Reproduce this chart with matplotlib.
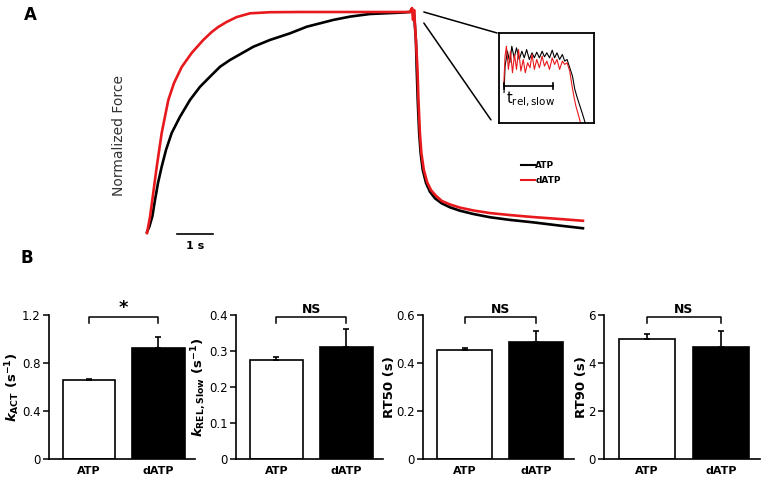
import numpy as np
import matplotlib
matplotlib.use("Agg")
import matplotlib.pyplot as plt
from matplotlib.lines import Line2D
from matplotlib.patches import ConnectionPatch

plt.rcParams["font.family"] = ["DejaVu Sans"]
plt.rcParams["mathtext.fontset"] = "custom"
plt.rcParams["mathtext.it"] = "DejaVu Sans:italic:bold"
plt.rcParams["mathtext.rm"] = "DejaVu Sans"

# ---- Panel A: normalized force traces (time in s, force 0..1) ----
t_atp = [0, 0.064, 0.147, 0.222, 0.306, 0.408, 0.528, 0.686, 0.917, 1.194, 1.472, 1.75,
         2.028, 2.306, 2.631, 2.953, 3.417, 3.972, 4.436, 5.175, 5.639, 6.194, 7.028, 7.306,
         7.36, 7.42, 7.47, 7.49, 7.52, 7.56, 7.60, 7.66, 7.75, 7.86, 8.0, 8.19, 8.42, 8.69,
         9.06, 9.53, 10.08, 10.72, 11.47, 12.11]
f_atp = [0, 0.024, 0.07, 0.145, 0.223, 0.297, 0.373, 0.45, 0.524, 0.60, 0.66, 0.706,
         0.751, 0.782, 0.812, 0.842, 0.873, 0.903, 0.933, 0.964, 0.979, 0.991, 0.997, 1.0,
         1.014, 0.99, 0.87, 0.751, 0.60, 0.45, 0.36, 0.282, 0.223, 0.183, 0.153, 0.13, 0.112,
         0.097, 0.082, 0.067, 0.055, 0.044, 0.029, 0.017]
t_datp = [0, 0.083, 0.147, 0.269, 0.408, 0.592, 0.75, 0.964, 1.242, 1.564, 1.797, 1.981,
          2.214, 2.492, 2.861, 3.417, 4.25, 7.306, 7.36, 7.39, 7.42, 7.47, 7.51, 7.54, 7.58,
          7.62, 7.69, 7.78, 7.89, 8.03, 8.19, 8.42, 8.69, 9.06, 9.53, 10.08, 10.72, 11.47, 12.11]
f_datp = [-0.005, 0.068, 0.145, 0.295, 0.45, 0.60, 0.677, 0.75, 0.814, 0.873, 0.909, 0.932,
          0.955, 0.977, 0.994, 0.999, 1.0, 1.0, 1.018, 0.964, 1.009, 0.87, 0.751, 0.60, 0.45,
          0.36, 0.282, 0.227, 0.19, 0.164, 0.141, 0.125, 0.111, 0.098, 0.086, 0.077, 0.068,
          0.059, 0.051]

# inset (zoom on relaxation onset), arbitrary units
ins_x_atp = [45, 48, 55, 62, 68, 75, 82, 90, 98, 105, 112, 120, 128, 135, 142, 150, 158,
             165, 172, 180, 188, 195, 202, 210, 218, 225, 232, 240, 248, 255, 262, 270, 278, 286]
ins_y_atp = [100, 180, 225, 190, 240, 205, 235, 200, 225, 205, 230, 200, 220, 205, 222, 205,
             225, 208, 220, 205, 228, 205, 220, 200, 215, 195, 200, 175, 150, 110, 85, 60, 35, 8]
ins_x_datp = [44, 48, 52, 58, 64, 70, 76, 82, 88, 95, 102, 108, 115, 122, 128, 135, 142, 150,
              158, 165, 172, 180, 188, 195, 202, 210, 218, 225, 232, 240, 246, 252, 258, 265, 272]
ins_y_datp = [120, 210, 240, 170, 225, 160, 215, 170, 230, 165, 200, 160, 190, 175, 215, 170,
              200, 175, 210, 180, 195, 170, 205, 185, 200, 170, 195, 185, 190, 165, 125, 90,
              60, 35, 8]
ins_bar = [45, 190]   # t_rel,slow span

# ---- Panel B: bar values ----
groups = ["ATP", "dATP"]
k_act = [0.66, 0.923]
k_act_err = [0.008, 0.094]
k_rel = [0.275, 0.31]
k_rel_err = [0.008, 0.051]
rt50 = [0.454, 0.489]
rt50_err = [0.008, 0.045]
rt90 = [5.02, 4.68]
rt90_err = [0.18, 0.66]

W, H = 764, 484
RED = "#e8191c"
fig = plt.figure(figsize=(W / 100, H / 100), dpi=100)

# panel A axes spans the top 250 px; time 0 at x=147 px, 36 px per second
ax_a = fig.add_axes([0, 234 / H, 1, 250 / H])
ax_a.set_xlim(-147 / 36, (W - 147) / 36)
ax_a.set_ylim(-18 / 220, 232 / 220)
ax_a.axis("off")
ax_a.plot(t_atp, f_atp, color="black", lw=1.9, solid_joinstyle="round")
ax_a.plot(t_datp, f_datp, color=RED, lw=1.9, solid_joinstyle="round")

# 1 s scale bar
ax_a.plot([0.83, 1.83], [-0.01, -0.01], color="black", lw=1.2)
ax_a.text(1.33, -0.062, "1 s", ha="center", va="center", fontsize=8, fontweight="bold")

fig.text(119 / W, 1 - 136 / H, "Normalized Force", rotation=90, ha="center", va="center",
         fontsize=10, color="#333333")
fig.text(30 / W, 1 - 15 / H, "A", fontsize=12, fontweight="bold", ha="center", va="center")
fig.text(27 / W, 1 - 258 / H, "B", fontsize=12, fontweight="bold", ha="center", va="center")

handles = [Line2D([], [], color="black", lw=1.5), Line2D([], [], color=RED, lw=1.5)]
ax_a.legend(handles, groups, loc="upper left", bbox_to_anchor=(521 / W, 1 - 161 / H),
            bbox_transform=fig.transFigure, frameon=False, borderpad=0, borderaxespad=0,
            handlelength=1.5, handletextpad=0.1, labelspacing=0.7,
            prop={"size": 6.5, "weight": "bold"})

# inset
ax_in = fig.add_axes([499 / W, 1 - 123 / H, 95 / W, 90 / H])
ax_in.plot(ins_x_atp, ins_y_atp, color="black", lw=0.8)
ax_in.plot(ins_x_datp, ins_y_datp, color=RED, lw=0.8)
ax_in.set_xlim(30, 312)
ax_in.set_ylim(8, 280)
ax_in.set_xticks([])
ax_in.set_yticks([])
for s in ax_in.spines.values():
    s.set_linewidth(1.3)
ax_in.plot(ins_bar, [120, 120], color="black", lw=1.2)
ax_in.plot([ins_bar[0]] * 2, [110, 130], color="black", lw=1.2)
ax_in.plot([ins_bar[1]] * 2, [110, 130], color="black", lw=1.2)
ax_in.text(125, 78, r"t$_{\mathregular{rel,slow}}$", ha="center", va="center", fontsize=10.5)

for xyA, xyB in [((7.69, 1.0), (-0.02, 1.0)), ((7.69, 0.95), (-0.085, 0.035))]:
    con = ConnectionPatch(xyA=xyA, coordsA=ax_a.transData, xyB=xyB, coordsB=ax_in.transAxes,
                          color="black", lw=1.1)
    fig.add_artist(con)

# ---- Panel B ----
panels = [
    (k_act, k_act_err, 1.2, [0, 0.4, 0.8, 1.2], r"$k_{\mathregular{ACT}}$ (s$^{\mathregular{-1}}$)", "*", 49, 146),
    (k_rel, k_rel_err, 0.4, [0, 0.1, 0.2, 0.3, 0.4], r"$k_{\mathregular{REL,Slow}}$ (s$^{\mathregular{-1}}$)", "NS", 236, 147),
    (rt50, rt50_err, 0.6, [0, 0.2, 0.4, 0.6], "RT50 (s)", "NS", 423, 151),
    (rt90, rt90_err, 6, [0, 2, 4, 6], "RT90 (s)", "NS", 604, 156),
]

for vals, errs, ymax, ticks, ylab, sig, left, width in panels:
    ax = fig.add_axes([left / W, 25 / H, width / W, 144 / H])
    x = np.arange(len(groups))
    ax.bar(x, vals, width=0.76, color=["white", "black"], edgecolor="black", linewidth=1.2, zorder=2)
    ax.errorbar(x, vals, yerr=[[0, 0], errs], fmt="none", ecolor="black", elinewidth=1.2,
                capsize=2.5, capthick=1.2, zorder=3)
    ax.set_xlim(-0.58, 1.53)
    ax.set_ylim(0, ymax)
    ax.set_yticks(ticks)
    ax.set_yticklabels(["{:g}".format(v) for v in ticks])
    ax.set_xticks(x)
    ax.set_xticklabels(groups, fontweight="bold")
    ax.tick_params(axis="x", length=0, pad=5, labelsize=8)
    ax.tick_params(axis="y", length=4, width=1.1, direction="out", labelsize=8.5, pad=2)
    for s in ["top", "right"]:
        ax.spines[s].set_visible(False)
    for s in ["left", "bottom"]:
        ax.spines[s].set_linewidth(1.2)
    ax.set_ylabel(ylab, fontsize=9.5, fontweight="bold", labelpad=0)
    # significance bracket
    yb, yt = 0.945 * ymax, 0.985 * ymax
    ax.plot([0, 0, 1, 1], [yb, yt, yt, yb], color="black", lw=1.1, clip_on=False)
    if sig == "*":
        ax.text(0.5, yt, sig, ha="center", va="bottom", fontsize=13, fontweight="bold")
    else:
        ax.text(0.5, yt + 0.01 * ymax, sig, ha="center", va="bottom", fontsize=9, fontweight="bold")

fig.savefig("out.png", dpi=100)
